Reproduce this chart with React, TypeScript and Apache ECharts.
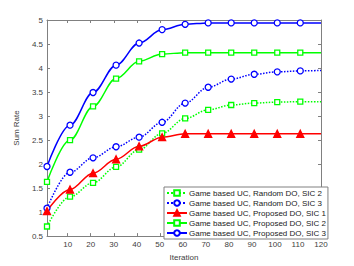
import React, { useEffect, useRef } from "react";
import * as echarts from "echarts";

const iterations = [1, 11, 21, 31, 41, 51, 61, 71, 81, 91, 101, 111, 120];
const xTicks = [10, 20, 30, 40, 50, 60, 70, 80, 90, 100, 110, 120];

const randomSic2 = [0.7, 1.32, 1.61, 1.94, 2.3, 2.64, 2.95, 3.13, 3.23, 3.27, 3.29, 3.3, 3.3];
const randomSic3 = [1.08, 1.83, 2.13, 2.36, 2.56, 2.87, 3.27, 3.6, 3.77, 3.87, 3.92, 3.94, 3.95];
const proposedSic1 = [1.02, 1.47, 1.81, 2.1, 2.37, 2.56, 2.63, 2.63, 2.63, 2.63, 2.63, 2.63, 2.63];
const proposedSic2 = [1.63, 2.5, 3.2, 3.78, 4.14, 4.29, 4.32, 4.32, 4.32, 4.32, 4.32, 4.32, 4.32];
const proposedSic3 = [1.95, 2.81, 3.49, 4.06, 4.52, 4.8, 4.91, 4.94, 4.94, 4.94, 4.94, 4.94, 4.94];

const names = [
  "Game based UC, Random DO, SIC 2",
  "Game based UC, Random DO, SIC 3",
  "Game based UC, Proposed DO, SIC 1",
  "Game based UC, Proposed DO, SIC 2",
  "Game based UC, Proposed DO, SIC 3",
];

const AXIS = "#808080";
const TEXT = "#404040";

function mkSeries(
  name: string,
  vals: number[],
  color: string,
  type: string,
  symbol: string,
  filled: boolean,
  size: number
) {
  return {
    name,
    type: "line",
    smooth: 0.35,
    smoothMonotone: "x",
    data: vals.map((v, i) => ({
      value: [iterations[i], v],
      symbol: i === vals.length - 1 ? "none" : symbol,
    })),
    symbol,
    symbolSize: size,
    showAllSymbol: true,
    lineStyle: { color, width: 1.5, type },
    itemStyle: {
      color: filled ? color : "#ffffff",
      borderColor: color,
      borderWidth: 1.3,
    },
    z: 3,
  };
}

export default function App() {
  const ref = useRef<HTMLDivElement>(null);
  useEffect(() => {
    if (!ref.current) return;
    const chart = echarts.init(ref.current, undefined, { renderer: "svg" });
    const axisCommon = {
      axisLine: { show: true, onZero: false, lineStyle: { color: AXIS, width: 1 } },
      splitLine: { show: false },
    };
    chart.setOption({
      animation: false,
      backgroundColor: "#ffffff",
      textStyle: { fontFamily: "Liberation Sans, Arial, sans-serif" },
      grid: { left: 47, right: 33, top: 20, bottom: 29, containLabel: false },
      legend: {
        data: names,
        orient: "vertical",
        left: 164,
        top: 187,
        width: 156,
        itemWidth: 20,
        itemHeight: 7,
        itemGap: 2,
        padding: [2, 2, 2, 2],
        borderColor: AXIS,
        borderWidth: 1,
        backgroundColor: "#ffffff",
        textStyle: { fontSize: 8, color: "#222", padding: [0, 0, 0, -3] },
      },
      xAxis: [
        {
          type: "value",
          min: 1,
          max: 120,
          name: "Iteration",
          nameLocation: "middle",
          nameGap: 14,
          nameTextStyle: { fontSize: 8, color: TEXT },
          ...axisCommon,
          axisTick: { show: true, inside: true, length: 3, lineStyle: { color: AXIS }, customValues: xTicks },
          axisLabel: { fontSize: 8, color: TEXT, margin: 4, customValues: xTicks },
        },
        {
          type: "value",
          min: 1,
          max: 120,
          position: "top",
          ...axisCommon,
          axisTick: { show: true, inside: true, length: 3, lineStyle: { color: AXIS }, customValues: xTicks },
          axisLabel: { show: false, customValues: xTicks },
        },
      ],
      yAxis: [
        {
          type: "value",
          min: 0.5,
          max: 5,
          interval: 0.5,
          name: "Sum Rate",
          nameLocation: "middle",
          nameGap: 20,
          nameTextStyle: { fontSize: 8, color: TEXT },
          ...axisCommon,
          axisTick: { show: true, inside: true, length: 3, lineStyle: { color: AXIS } },
          axisLabel: { fontSize: 8, color: TEXT, margin: 4 },
        },
        {
          type: "value",
          min: 0.5,
          max: 5,
          interval: 0.5,
          position: "right",
          ...axisCommon,
          axisTick: { show: true, inside: true, length: 3, lineStyle: { color: AXIS } },
          axisLabel: { show: false },
        },
      ],
      series: [
        mkSeries(names[0], randomSic2, "#00ff00", "dotted", "rect", false, 5),
        mkSeries(names[1], randomSic3, "#0000ff", "dotted", "circle", false, 6),
        mkSeries(names[2], proposedSic1, "#ff0000", "solid", "triangle", true, 7),
        mkSeries(names[3], proposedSic2, "#00ff00", "solid", "rect", false, 5),
        mkSeries(names[4], proposedSic3, "#0000ff", "solid", "circle", false, 6),
      ],
    });
    return () => chart.dispose();
  }, []);
  return <div ref={ref} style={{ width: 354, height: 266, position: "absolute", left: 0, top: 0 }} />;
}
